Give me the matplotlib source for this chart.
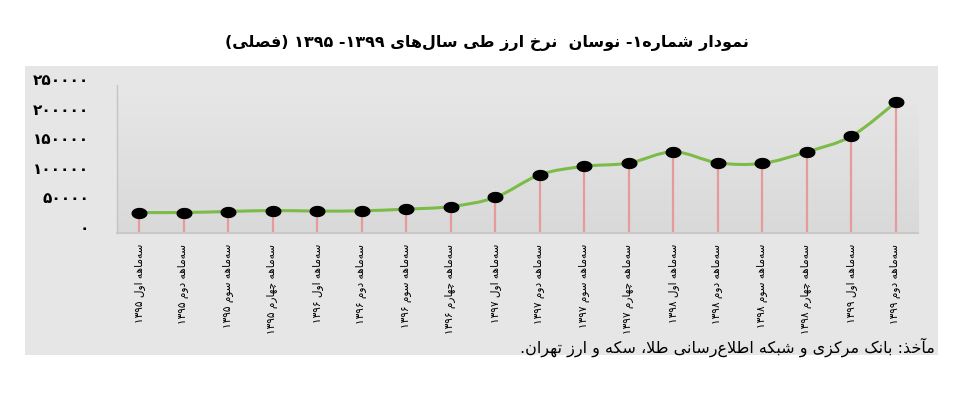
import numpy as np
import matplotlib
matplotlib.use("Agg")
import matplotlib.pyplot as plt
from matplotlib.path import Path
from matplotlib.patches import PathPatch, Rectangle

# ---------------- data ----------------
seasons = ["سه‌ماهه اول", "سه‌ماهه دوم", "سه‌ماهه سوم", "سه‌ماهه چهارم"]
years = ["۱۳۹۵", "۱۳۹۶", "۱۳۹۷", "۱۳۹۸", "۱۳۹۹"]
categories = [f"{s} {y}" for y in years[:4] for s in seasons] + \
             [f"{seasons[0]} {years[4]}", f"{seasons[1]} {years[4]}"]
values = [34600, 34600, 36300, 38000, 37000, 37500, 40300, 44700, 60100,
          98400, 112600, 118100, 137100, 118600, 117600, 137100, 163500, 220600]
yticks = [0, 50000, 100000, 150000, 200000, 250000]
ytick_labels = ["۰", "۵۰۰۰۰", "۱۰۰۰۰۰", "۱۵۰۰۰۰", "۲۰۰۰۰۰", "۲۵۰۰۰۰"]
title = "نمودار شماره۱- نوسان  نرخ ارز طی سال‌های ۱۳۹۹- ۱۳۹۵ (فصلی)"
source = "مآخذ: بانک مرکزی و شبکه اطلاع‌رسانی طلا، سکه و ارز تهران."

# ---------------- minimal Arabic shaping + RTL ordering ----------------
FORMS = {
    'ا': (0xFE8D, 0xFE8E, None, None), 'آ': (0xFE81, 0xFE82, None, None),
    'ب': (0xFE8F, 0xFE90, 0xFE91, 0xFE92), 'ت': (0xFE95, 0xFE96, 0xFE97, 0xFE98),
    'ج': (0xFE9D, 0xFE9E, 0xFE9F, 0xFEA0), 'چ': (0xFB7A, 0xFB7B, 0xFB7C, 0xFB7D),
    'خ': (0xFEA5, 0xFEA6, 0xFEA7, 0xFEA8), 'د': (0xFEA9, 0xFEAA, None, None),
    'ذ': (0xFEAB, 0xFEAC, None, None), 'ر': (0xFEAD, 0xFEAE, None, None),
    'ز': (0xFEAF, 0xFEB0, None, None), 'س': (0xFEB1, 0xFEB2, 0xFEB3, 0xFEB4),
    'ش': (0xFEB5, 0xFEB6, 0xFEB7, 0xFEB8), 'ص': (0xFEB9, 0xFEBA, 0xFEBB, 0xFEBC),
    'ط': (0xFEC1, 0xFEC2, 0xFEC3, 0xFEC4), 'ع': (0xFEC9, 0xFECA, 0xFECB, 0xFECC),
    'ف': (0xFED1, 0xFED2, 0xFED3, 0xFED4), 'ک': (0xFB8E, 0xFB8F, 0xFB90, 0xFB91),
    'ل': (0xFEDD, 0xFEDE, 0xFEDF, 0xFEE0), 'م': (0xFEE1, 0xFEE2, 0xFEE3, 0xFEE4),
    'ن': (0xFEE5, 0xFEE6, 0xFEE7, 0xFEE8), 'ه': (0xFEE9, 0xFEEA, 0xFEEB, 0xFEEC),
    'و': (0xFEED, 0xFEEE, None, None), 'ی': (0xFBFC, 0xFBFD, 0xFBFE, 0xFBFF),
}
LAMALEF = {'ا': (0xFEFB, 0xFEFC), 'آ': (0xFEF5, 0xFEF6)}


def shape(s):
    out = []
    i = 0
    n = len(s)
    while i < n:
        c = s[i]
        if c not in FORMS:
            if c != '\u200c':
                out.append(c)
            i += 1
            continue
        p = s[i - 1] if i > 0 else ''
        prev_join = p in FORMS and FORMS[p][2] is not None
        if c == 'ل' and i + 1 < n and s[i + 1] in LAMALEF:
            iso, fin = LAMALEF[s[i + 1]]
            out.append(chr(fin if prev_join else iso))
            i += 2
            continue
        nx = s[i + 1] if i + 1 < n else ''
        dual = FORMS[c][2] is not None
        next_join = dual and nx in FORMS
        f = FORMS[c]
        if prev_join and next_join:
            out.append(chr(f[3]))
        elif prev_join:
            out.append(chr(f[1]))
        elif next_join:
            out.append(chr(f[2]))
        else:
            out.append(chr(f[0]))
        i += 1
    return ''.join(out)


def rtl(s):
    s = shape(s)
    tokens = []
    i = 0
    while i < len(s):
        if s[i].isdigit():
            j = i
            while j < len(s) and s[j].isdigit():
                j += 1
            tokens.append(s[i:j])
            i = j
        else:
            tokens.append(s[i])
            i += 1
    mirror = {'(': ')', ')': '('}
    return ''.join(mirror.get(t, t) for t in reversed(tokens))


# ---------------- figure ----------------
FONT = ['DejaVu Sans']
fig = plt.figure(figsize=(9.72, 3.96), dpi=100, facecolor='white')

panel_col = '#e6e6e6'
fig.patches.append(Rectangle((25 / 972, 1 - 355 / 396), (938 - 25) / 972, (355 - 66) / 396,
                             transform=fig.transFigure, facecolor=panel_col,
                             edgecolor='none', zorder=-10))

ax = fig.add_axes([117 / 972, 1 - 233 / 396, (918 - 117) / 972, (233 - 85) / 396])
ax.set_zorder(1)
ax.set_facecolor('none')

# gradient background of plot area
grad = np.linspace(0, 1, 256).reshape(-1, 1)
top = np.array([0xe7, 0xe7, 0xe7]) / 255
bot = np.array([0xd9, 0xd9, 0xd9]) / 255
img = top[None, None, :] * (1 - grad[:, :, None]) + bot[None, None, :] * grad[:, :, None]
ax.imshow(img, extent=[0, 1, 0, 1], transform=ax.transAxes, aspect='auto', zorder=0)

x = np.arange(len(values))
y = np.array(values, dtype=float)

# stems
ax.vlines(x, 0, y, color='#e8999b', lw=1.6, zorder=2)

# smooth (Catmull-Rom -> cubic Bezier) line
pts = np.column_stack([x, y])
ext = np.vstack([pts[0], pts, pts[-1]])
verts = [tuple(pts[0])]
codes = [Path.MOVETO]
for i in range(len(pts) - 1):
    p0, p1, p2, p3 = ext[i], ext[i + 1], ext[i + 2], ext[i + 3]
    c1 = p1 + (p2 - p0) / 6.0
    c2 = p2 - (p3 - p1) / 6.0
    verts += [tuple(c1), tuple(c2), tuple(p2)]
    codes += [Path.CURVE4] * 3
ax.add_patch(PathPatch(Path(verts, codes), facecolor='none', edgecolor='#7dbb48',
                       lw=2.2, zorder=3, capstyle='round'))

# elliptical markers
t = np.linspace(0, 2 * np.pi, 40)
ell = Path(np.column_stack([np.cos(t), 0.68 * np.sin(t)]), closed=True)
ax.plot(x, y, linestyle='none', marker=ell, markersize=10.5, color='black', zorder=4)

ax.set_xlim(-0.5, len(values) - 0.5)
ax.set_ylim(0, 250000)

for s in ['top', 'right']:
    ax.spines[s].set_visible(False)
ax.spines['left'].set_color('#c4c4c4')
ax.spines['left'].set_linewidth(1.0)
ax.spines['bottom'].set_color('#c8c8c8')
ax.spines['bottom'].set_linewidth(1.5)
ax.spines['left'].set_zorder(5)
ax.spines['bottom'].set_zorder(5)

ax.set_yticks(yticks)
ax.tick_params(axis='y', length=0, pad=20)
ax.set_yticklabels(ytick_labels, fontsize=11, fontweight='bold', family=FONT,
                   color='black', va='baseline')

ax.set_xticks(x)
ax.tick_params(axis='x', length=0, pad=8)
ax.set_xticklabels([rtl(c) for c in categories], rotation=90, fontsize=7.6,
                   family=FONT, color='black', ha='center', va='top')

fig.text(0.501, 1 - 43 / 396, rtl(title), ha='center', va='center', fontsize=11.5,
         fontweight='bold', family=FONT, color='black')
fig.text(935 / 972, 1 - 347 / 396, rtl(source), ha='right', va='center', fontsize=11.5,
         family=FONT, color='black')

fig.savefig('out.png', dpi=100, facecolor='white')
